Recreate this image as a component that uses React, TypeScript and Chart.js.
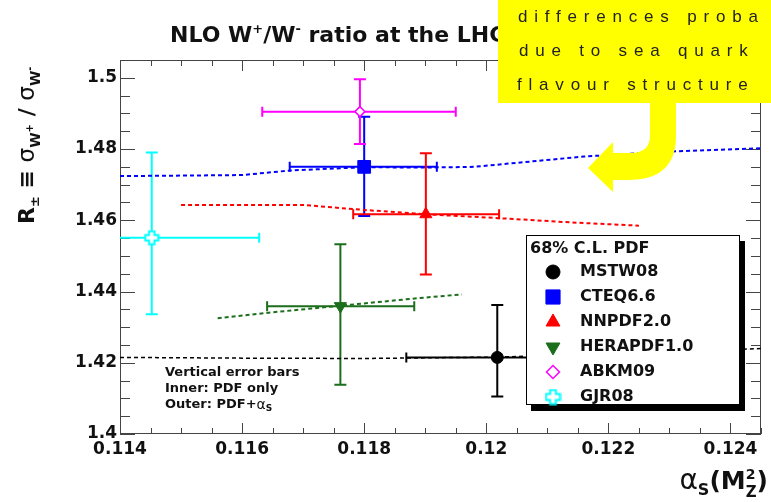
import React, { useEffect, useRef } from 'react';
import { Chart, registerables } from 'chart.js';
import { drawPoint } from 'chart.js/helpers';

Chart.register(...registerables);

// ---------- axes ----------
const X_MIN = 0.114;
const X_MAX = 0.1245;
const Y_MIN = 1.4;
const Y_MAX = 1.505;
const X_TICKS = [0.114, 0.116, 0.118, 0.12, 0.122, 0.124];
const Y_TICKS = [1.4, 1.42, 1.44, 1.46, 1.48, 1.5];
const X_MINOR = 0.0005;
const Y_MINOR = 0.005;

// ---------- PDF sets (points with error bars) ----------
const PDF_NAMES = ['MSTW08', 'CTEQ6.6', 'NNPDF2.0', 'HERAPDF1.0', 'ABKM09', 'GJR08'];
const ALPHA_S = [0.12018, 0.118, 0.11901, 0.11761, 0.11793, 0.11452];
const ALPHA_LO = [0.11869, 0.11678, 0.11782, 0.11641, 0.11633, 0.11277];
const ALPHA_HI = [0.12167, 0.11919, 0.12021, 0.11882, 0.1195, 0.11628];
const RATIO = [1.4215, 1.475, 1.4617, 1.4359, 1.4905, 1.4551];
const RATIO_LO = [1.4105, 1.4612, 1.4448, 1.4138, 1.4814, 1.4336];
const RATIO_HI = [1.4362, 1.4891, 1.4788, 1.4533, 1.4996, 1.479];

// ---------- alpha_s dependence curves ----------
const MSTW_CURVE_X = [0.114, 0.116, 0.118, 0.1202, 0.1225, 0.1245];
const MSTW_CURVE_Y = [1.4215, 1.4213, 1.4212, 1.4216, 1.4228, 1.424];
const CTEQ_CURVE_X = [0.114, 0.116, 0.1168, 0.118, 0.119, 0.1198, 0.1216, 0.123, 0.1245];
const CTEQ_CURVE_Y = [1.4724, 1.4727, 1.474, 1.4749, 1.4748, 1.475, 1.4779, 1.4793, 1.4802];
const NNPDF_CURVE_X = [0.115, 0.117, 0.118, 0.119, 0.1202, 0.1215, 0.1225];
const NNPDF_CURVE_Y = [1.4643, 1.4643, 1.4629, 1.4617, 1.4606, 1.4593, 1.4585];
const HERA_CURVE_X = [0.1156, 0.1164, 0.1176, 0.1188, 0.1196];
const HERA_CURVE_Y = [1.4325, 1.434, 1.436, 1.438, 1.4392];

// ---------- texts ----------
const LEGEND_HEADER = '68% C.L. PDF';
const NOTE_LINES = ['Vertical error bars', 'Inner: PDF only', 'Outer: PDF+'];
const CALLOUT_LINES = ['differences proba', 'due to sea quark', 'flavour structure'];

// ---------- styles ----------
const COLORS = ['#000000', '#0000ff', '#ff0000', '#1b6e1b', '#ff00ff', '#00ffff'];
const FONT = '"DejaVu Sans"';
const f = (size: number, bold = true) => `${bold ? 'bold ' : ''}${size}px ${FONT}`;

function makeCross(size: number, color: string) {
  const c = document.createElement('canvas');
  c.width = size;
  c.height = size;
  const g = c.getContext('2d')!;
  const m = size / 2;
  const a = size * 0.17;
  const L = size / 2 - 1.5;
  g.beginPath();
  g.moveTo(m - a, m - L);
  g.lineTo(m + a, m - L);
  g.lineTo(m + a, m - a);
  g.lineTo(m + L, m - a);
  g.lineTo(m + L, m + a);
  g.lineTo(m + a, m + a);
  g.lineTo(m + a, m + L);
  g.lineTo(m - a, m + L);
  g.lineTo(m - a, m + a);
  g.lineTo(m - L, m + a);
  g.lineTo(m - L, m - a);
  g.lineTo(m - a, m - a);
  g.closePath();
  g.fillStyle = '#ffffff';
  g.fill();
  g.strokeStyle = color;
  g.lineWidth = 2;
  g.stroke();
  return c;
}

type Seg = { t: string; font: string; dy?: number; stack?: boolean };
function segs(ctx: CanvasRenderingContext2D, list: Seg[], x: number, y: number, draw: boolean) {
  let cx = x;
  let prevStart = x;
  let prevW = 0;
  for (const s of list) {
    ctx.font = s.font;
    const w = ctx.measureText(s.t).width;
    if (s.stack) {
      if (draw) ctx.fillText(s.t, prevStart, y + (s.dy || 0));
      cx += Math.max(0, w - prevW);
    } else {
      if (draw) ctx.fillText(s.t, cx, y + (s.dy || 0));
      prevStart = cx;
      prevW = w;
      cx += w;
    }
  }
  return cx - x;
}

export default function App() {
  const ref = useRef<HTMLCanvasElement | null>(null);

  useEffect(() => {
    const canvas = ref.current!;
    const crossSmall = makeCross(16, COLORS[5]);
    const crossBig = makeCross(17, COLORS[5]);

    const pointStyles: any[] = [
      { pointStyle: 'circle', radius: 6, rotation: 0, borderWidth: 1 },
      { pointStyle: 'rect', radius: 9, rotation: 0, borderWidth: 1 },
      { pointStyle: 'triangle', radius: 7, rotation: 0, borderWidth: 1 },
      { pointStyle: 'triangle', radius: 7, rotation: 180, borderWidth: 1 },
      { pointStyle: 'rectRot', radius: 5, rotation: 0, borderWidth: 1.5 },
      { pointStyle: crossSmall, radius: 8, rotation: 0, borderWidth: 0 },
    ];
    const legendStyles: any[] = [
      { pointStyle: 'circle', radius: 7, rotation: 0, borderWidth: 1 },
      { pointStyle: 'rect', radius: 10, rotation: 0, borderWidth: 1 },
      { pointStyle: 'triangle', radius: 8, rotation: 0, borderWidth: 1 },
      { pointStyle: 'triangle', radius: 8, rotation: 180, borderWidth: 1 },
      { pointStyle: 'rectRot', radius: 6.5, rotation: 0, borderWidth: 1.5 },
      { pointStyle: crossBig, radius: 8, rotation: 0, borderWidth: 0 },
    ];
    const fillFor = (i: number) => (i === 4 ? '#ffffff' : COLORS[i]);

    const pointDatasets = PDF_NAMES.map((name, i) => ({
      label: name,
      data: [{ x: ALPHA_S[i], y: RATIO[i] }],
      showLine: false,
      pointStyle: pointStyles[i].pointStyle,
      pointRadius: pointStyles[i].radius,
      pointRotation: pointStyles[i].rotation,
      pointBorderWidth: pointStyles[i].borderWidth,
      backgroundColor: fillFor(i),
      borderColor: COLORS[i],
      pointBackgroundColor: fillFor(i),
      pointBorderColor: COLORS[i],
    }));

    const curve = (xs: number[], ys: number[], color: string, width: number) => ({
      label: '',
      data: xs.map((x, i) => ({ x, y: ys[i] })),
      showLine: true,
      borderColor: color,
      borderWidth: width,
      borderDash: [4, 3],
      pointRadius: 0,
      fill: false,
    });

    const lineDatasets = [
      curve(MSTW_CURVE_X, MSTW_CURVE_Y, COLORS[0], 1.5),
      curve(CTEQ_CURVE_X, CTEQ_CURVE_Y, COLORS[1], 2),
      curve(NNPDF_CURVE_X, NNPDF_CURVE_Y, COLORS[2], 2),
      curve(HERA_CURVE_X, HERA_CURVE_Y, COLORS[3], 2),
    ];

    const decor = {
      id: 'decor',
      beforeDatasetsDraw(chart: any) {
        const ctx: CanvasRenderingContext2D = chart.ctx;
        const { left, right, top, bottom } = chart.chartArea;
        const xs = chart.scales.x;
        const ys = chart.scales.y;
        ctx.save();
        // frame
        ctx.strokeStyle = '#444';
        ctx.lineWidth = 1;
        ctx.strokeRect(left + 0.5, top + 0.5, right - left - 1, bottom - top - 1);
        // x ticks
        const nx = Math.round((X_MAX - X_MIN) / X_MINOR);
        for (let k = 0; k <= nx; k++) {
          const v = X_MIN + k * X_MINOR;
          const major = k % 4 === 0;
          const px = Math.round(xs.getPixelForValue(v)) + 0.5;
          const len = major ? 11 : 6;
          ctx.beginPath();
          ctx.moveTo(px, bottom);
          ctx.lineTo(px, bottom - len);
          ctx.moveTo(px, top);
          ctx.lineTo(px, top + len);
          ctx.stroke();
        }
        const ny = Math.round((Y_MAX - Y_MIN) / Y_MINOR);
        for (let k = 0; k <= ny; k++) {
          const v = Y_MIN + k * Y_MINOR;
          const major = k % 4 === 0;
          const py = Math.round(ys.getPixelForValue(v)) + 0.5;
          const len = major ? 15 : 10;
          ctx.beginPath();
          ctx.moveTo(left, py);
          ctx.lineTo(left + len, py);
          ctx.moveTo(right, py);
          ctx.lineTo(right - len, py);
          ctx.stroke();
        }
        // error bars
        ctx.beginPath();
        ctx.rect(left, top, right - left, bottom - top);
        ctx.clip();
        ctx.lineWidth = 2;
        PDF_NAMES.forEach((_, i) => {
          ctx.strokeStyle = COLORS[i];
          const x = xs.getPixelForValue(ALPHA_S[i]);
          const y = ys.getPixelForValue(RATIO[i]);
          const xl = xs.getPixelForValue(ALPHA_LO[i]);
          const xr = xs.getPixelForValue(ALPHA_HI[i]);
          const yt = ys.getPixelForValue(RATIO_HI[i]);
          const yb = ys.getPixelForValue(RATIO_LO[i]);
          ctx.beginPath();
          ctx.moveTo(xl, y);
          ctx.lineTo(xr, y);
          ctx.moveTo(xl, y - 5);
          ctx.lineTo(xl, y + 5);
          ctx.moveTo(xr, y - 5);
          ctx.lineTo(xr, y + 5);
          ctx.moveTo(x, yt);
          ctx.lineTo(x, yb);
          ctx.moveTo(x - 6, yt);
          ctx.lineTo(x + 6, yt);
          ctx.moveTo(x - 6, yb);
          ctx.lineTo(x + 6, yb);
          ctx.stroke();
        });
        ctx.restore();
      },
      afterDatasetsDraw(chart: any) {
        const ctx: CanvasRenderingContext2D = chart.ctx;
        ctx.save();
        ctx.fillStyle = '#111';
        ctx.textBaseline = 'alphabetic';
        ctx.textAlign = 'left';

        // title
        segs(ctx, [
          { t: 'NLO W', font: f(22) },
          { t: '+', font: f(13), dy: -9 },
          { t: '/W', font: f(22) },
          { t: '-', font: f(13), dy: -9 },
          { t: ' ratio at the LHC', font: f(22) },
        ], 170, 42, true);

        // y title (rotated)
        ctx.save();
        ctx.translate(34, 224);
        ctx.rotate(-Math.PI / 2);
        segs(ctx, [
          { t: 'R', font: f(22) },
          { t: '±', font: f(13), dy: 5 },
          { t: ' ≡ ', font: f(22) },
          { t: 'σ', font: f(23, false) },
          { t: 'W', font: f(14), dy: 6 },
          { t: '+', font: f(10), dy: -1 },
          { t: ' / ', font: f(22) },
          { t: 'σ', font: f(23, false) },
          { t: 'W', font: f(14), dy: 6 },
          { t: '-', font: f(10), dy: -1 },
        ], 0, 0, true);
        ctx.restore();

        // x title
        const xt: Seg[] = [
          { t: 'α', font: f(28, false) },
          { t: 'S', font: f(16), dy: 6 },
          { t: '(M', font: f(25) },
          { t: 'Z', font: f(15), dy: 8 },
          { t: '2', font: f(14), dy: -10, stack: true },
          { t: ')', font: f(25) },
        ];
        const xw = segs(ctx, xt, 0, 0, false);
        segs(ctx, xt, 768 - xw, 489, true);

        // note
        ctx.textBaseline = 'middle';
        ctx.font = f(13);
        ctx.fillText(NOTE_LINES[0], 165, 373);
        ctx.fillText(NOTE_LINES[1], 165, 389);
        segs(ctx, [
          { t: NOTE_LINES[2], font: f(13) },
          { t: 'α', font: f(14, false) },
          { t: 'S', font: f(9), dy: 4 },
        ], 165, 405, true);

        // legend
        const bx = 526, by = 235, bw = 214, bh = 170;
        ctx.fillStyle = '#000';
        ctx.fillRect(bx + 5, by + 6, bw, bh);
        ctx.fillStyle = '#fff';
        ctx.fillRect(bx, by, bw, bh);
        ctx.strokeStyle = '#000';
        ctx.lineWidth = 1;
        ctx.strokeRect(bx + 0.5, by + 0.5, bw - 1, bh - 1);
        ctx.fillStyle = '#111';
        ctx.font = f(16);
        ctx.fillText(LEGEND_HEADER, 530, 249);
        PDF_NAMES.forEach((name, i) => {
          const y = 272 + i * 25;
          ctx.save();
          ctx.fillStyle = fillFor(i);
          ctx.strokeStyle = COLORS[i];
          ctx.lineWidth = legendStyles[i].borderWidth;
          drawPoint(ctx, legendStyles[i], 553, y);
          ctx.restore();
          ctx.fillStyle = '#111';
          ctx.font = f(16);
          ctx.fillText(name, 580, y);
        });

        // yellow callout
        ctx.fillStyle = '#ffff00';
        ctx.fillRect(498, 0, 273, 103);
        ctx.beginPath();
        ctx.moveTo(650, 100);
        ctx.lineTo(650, 136);
        ctx.quadraticCurveTo(650, 153, 630, 153);
        ctx.lineTo(613, 153);
        ctx.lineTo(613, 142);
        ctx.lineTo(588, 168);
        ctx.lineTo(613, 192);
        ctx.lineTo(613, 180);
        ctx.lineTo(628, 180);
        ctx.quadraticCurveTo(676, 180, 676, 136);
        ctx.lineTo(676, 100);
        ctx.closePath();
        ctx.fill();

        ctx.fillStyle = '#222';
        ctx.textBaseline = 'alphabetic';
        ctx.font = `17px "Liberation Sans"`;
        (ctx as any).letterSpacing = '6.8px';
        ctx.fillText(CALLOUT_LINES[0], 518, 22);
        ctx.fillText(CALLOUT_LINES[1], 519, 56);
        ctx.fillText(CALLOUT_LINES[2], 517, 90);
        (ctx as any).letterSpacing = '0px';
        ctx.restore();
      },
    };

    const tickFont = { family: 'DejaVu Sans', size: 17, weight: 'bold' as const };
    const chart = new Chart(canvas, {
      type: 'scatter',
      data: { datasets: [...pointDatasets, ...lineDatasets] as any },
      options: {
        animation: false,
        responsive: false,
        devicePixelRatio: 1,
        events: [],
        layout: { padding: { top: 60, right: 5, left: 0, bottom: 0 } },
        plugins: { legend: { display: false }, tooltip: { enabled: false }, title: { display: false } },
        scales: {
          x: {
            type: 'linear',
            min: X_MIN,
            max: X_MAX,
            grid: { display: false, drawTicks: false },
            border: { display: false },
            afterBuildTicks: (s: any) => { s.ticks = X_TICKS.map((v) => ({ value: v })); },
            afterFit: (s: any) => { s.height = 68; },
            ticks: {
              font: tickFont,
              color: '#111',
              padding: 5,
              maxRotation: 0,
              autoSkip: false,
              callback: (v: any) => String(Number(Number(v).toFixed(3))),
            },
          },
          y: {
            type: 'linear',
            min: Y_MIN,
            max: Y_MAX,
            grid: { display: false, drawTicks: false },
            border: { display: false },
            afterBuildTicks: (s: any) => { s.ticks = Y_TICKS.map((v) => ({ value: v })); },
            afterFit: (s: any) => { s.width = 120; },
            ticks: {
              font: tickFont,
              color: '#111',
              padding: 3,
              autoSkip: false,
              callback: (v: any) => String(Number(Number(v).toFixed(3))),
            },
          },
        },
      },
      plugins: [decor],
    } as any);
    return () => chart.destroy();
  }, []);

  return (
    <div style={{ position: 'absolute', left: 0, top: 0, width: 771, height: 502, background: '#fff' }}>
      <canvas ref={ref} width={771} height={502} style={{ display: 'block', width: 771, height: 502 }} />
    </div>
  );
}
